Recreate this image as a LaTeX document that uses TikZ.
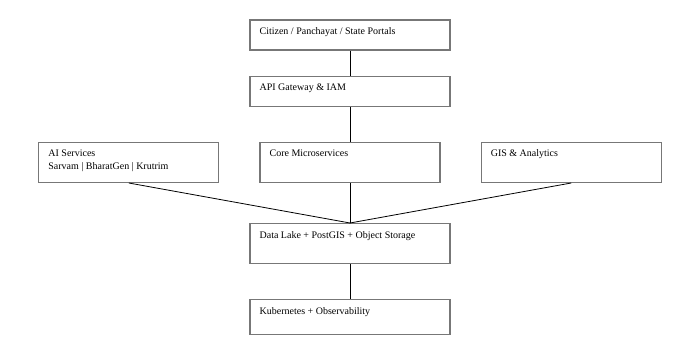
\documentclass[tikz,border=0pt]{standalone}
\usepackage{fontspec}
\setmainfont{Liberation Serif}
\usetikzlibrary{positioning}
\definecolor{BoxGray}{HTML}{777777}
\tikzset{
    % Plain boxes, text set in the top left corner
    tier/.style={
        rectangle,
        draw=BoxGray,
        line width=1.2pt,
        fill=white,
        minimum width=200pt,
        minimum height=30pt
    },
    tier small/.style={
        tier,
        minimum width=180pt,
        minimum height=40pt
    },
    tier text/.style={
        anchor=north west,
        inner sep=0pt,
        xshift=10pt,
        yshift=-8pt,
        align=left,
        font=\fontsize{10}{12.5}\selectfont
    },
    link/.style={
        draw=black,
        line width=0.8pt
    }
}
\begin{document}
\begin{tikzpicture}[x=1pt, y=1pt]
        \useasboundingbox[fill=white] (0,0) rectangle (700,350);

        % Links
        \coordinate (top) at (350,315);

        % Nodes
        \node[tier] (portals) at (top) {};
        \node[tier, below=25pt of portals] (gateway) {};
        \node[tier small, below=35pt of gateway] (core) {};
        \node[tier small, left=40pt of core] (ai) {};
        \node[tier small, right=40pt of core] (gis) {};
        \node[tier, minimum height=40pt, below=40pt of core] (datalake) {};
        \node[tier, minimum height=35pt, below=35pt of datalake] (k8s) {};

        % Texts
        \node[tier text] (portals text) at (portals.north west) {Citizen / Panchayat / State Portals};
        \node[tier text] (gateway text) at (gateway.north west) {API Gateway \& IAM};
        \node[tier text] (ai text) at (ai.north west) {AI Services\\Sarvam | BharatGen | Krutrim};
        \node[tier text] (core text) at (core.north west) {Core Microservices};
        \node[tier text] (gis text) at (gis.north west) {GIS \& Analytics};
        \node[tier text] (datalake text) at (datalake.north west) {Data Lake + PostGIS + Object Storage};
        \node[tier text] (k8s text) at (k8s.north west) {Kubernetes + Observability};

        % Connectors
        \draw[link] (portals) -- (gateway);
        \draw[link] (gateway) -- (core);
        \draw[link] (ai.south) -- (datalake.north);
        \draw[link] (core) -- (datalake);
        \draw[link] (gis.south) -- (datalake.north);
        \draw[link] (datalake) -- (k8s);
    \end{tikzpicture}
\end{document}
